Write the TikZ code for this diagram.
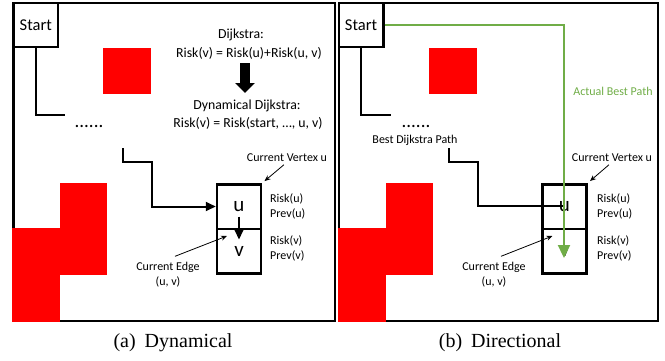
\documentclass[tikz,border=0pt]{standalone}
\usepackage{fontspec}
\setmainfont{Carlito}
\newfontfamily\capfont{Liberation Serif}
\usetikzlibrary{arrows.meta}
\definecolor{pathgreen}{HTML}{70AD47}
\definecolor{obst}{HTML}{FF0000}

\begin{document}
\begin{tikzpicture}[x=1pt,y=-1pt,
  frame/.style={draw, line width=2.5pt},
  obstacle/.style={fill=obst, draw=none},
  startbox/.style={draw, line width=2.5pt, minimum width=44.5pt, minimum height=44pt,
    inner sep=0pt, font=\fontsize{16.5}{16.5}\selectfont},
  route/.style={draw, line width=2pt, line join=miter},
  cell/.style={draw, line width=2.5pt, minimum width=44pt, minimum height=44.5pt,
    inner sep=0pt, font=\fontsize{21}{21}\selectfont},
  lbl/.style={font=\fontsize{12}{15}\selectfont, inner sep=0pt},
  rule/.style={font=\fontsize{13.8}{17}\selectfont, inner sep=0pt},
  dots/.style={font=\fontsize{19}{19}\selectfont, inner sep=0pt},
  pointer/.style={draw, line width=0.8pt, -{Stealth[length=6pt,width=5pt]}},
  caption/.style={font=\capfont\fontsize{20}{20}\selectfont, inner sep=0pt},
  greenroute/.style={draw=pathgreen, line width=2.3pt, -{Triangle[length=13pt,width=12pt]}}
]
\useasboundingbox (0,0) rectangle (665,360);

% ---------------- (a) Dynamical ----------------
\draw[frame] (13.5,3) rectangle (335,321);
\node[startbox] (astart) at (35.75,25) {Start};
\fill[obstacle] (103,48) rectangle (151,94);
\fill[obstacle] (12.3,228) rectangle (60,321.8);
\fill[obstacle] (60,183) rectangle (107,275);

\node[cell] (au) at (239,206.5) {u};
\node[cell] (av) at (239,251) {v};

\coordinate (aend) at (65,115);
\node[dots] (adots) at (89,126) {......};
\coordinate (aresume) at (123,148);
\draw[route] (astart.south) |- (aend);
\draw[route, -{Triangle[length=10pt,width=9pt]}] (aresume) -- (123,162) -- (152,162) |- (au.west);
\draw[route, -{Triangle[length=10pt,width=9pt]}] ([yshift=-10pt]au.center) -- ([yshift=-12pt]av.north);

\node[rule] (adij) at (241,35) {Dijkstra:};
\node[rule] (adijf) at (249,53) {Risk(v) = Risk(u)+Risk(u, v)};
\coordinate (abigA) at (245,63);
\coordinate (abigB) at (245,93);
\draw[line width=10pt, -{Triangle[length=10pt,width=19pt]}] (abigA) -- (abigB);
\node[rule] (adyn) at (247,106) {Dynamical Dijkstra:};
\node[rule] (adynf) at (248,123) {Risk(v) = Risk(start, …, u, v)};

\node[lbl] (acv) at (287,158) {Current Vertex u};
\draw[pointer, shorten <=4pt, shorten >=3pt] (acv.south) -- (au.north east);
\node[lbl, align=left, anchor=west] (aru) at (270,206.5) {Risk(u)\\Prev(u)};
\node[lbl, align=left, anchor=west] (arv) at (270,248.5) {Risk(v)\\Prev(v)};
\node[lbl, align=center] (ace) at (168,275) {Current Edge\\(u, v)};
\draw[pointer] ([shift={(7,-6)}]ace.north) -- ([shift={(-12,8.5)}]av.north);

\node[caption] (acap) at (173,343) {(a)\hspace{0.45em}Dynamical};

% ---------------- (b) Directional ----------------
\draw[frame] (339,3) rectangle (658,321);
\node[startbox] (bstart) at (361,25) {Start};
\fill[obstacle] (429,48) rectangle (477,94);
\fill[obstacle] (337.8,228) rectangle (386,321.8);
\fill[obstacle] (386,183) rectangle (433,275);

\node[cell] (bu) at (564.5,206.5) {u};
\node[cell] (bv) at (564.5,251) {v};

\coordinate (bend) at (391,115);
\node[dots] (bdots) at (416,126) {......};
\node[lbl] (bbest) at (415,140) {Best Dijkstra Path};
\coordinate (bresume) at (449,148);
\coordinate (bhalt) at (565,206);
\draw[route] (bstart.south) |- (bend);
\draw[route] (bresume) -- (449,162) -- (478,162) |- (bhalt);

\coordinate (bgoal) at (564,258);
\draw[greenroute] (bstart.east) -| (bgoal);
\node[lbl, text=pathgreen] (bactual) at (613,91) {Actual Best Path};

\node[lbl] (bcv) at (612,158) {Current Vertex u};
\draw[pointer, shorten <=4pt, shorten >=3pt] (bcv.south) -- (bu.north east);
\node[lbl, align=left, anchor=west] (bru) at (597,206.5) {Risk(u)\\Prev(u)};
\node[lbl, align=left, anchor=west] (brv) at (597,248.5) {Risk(v)\\Prev(v)};
\node[lbl, align=center] (bce) at (494,275) {Current Edge\\(u, v)};
\draw[pointer] ([shift={(7,-6)}]bce.north) -- ([shift={(-12,8.5)}]bv.north);

\node[caption] (bcap) at (500,343) {(b)\hspace{0.45em}Directional};
\end{tikzpicture}
\end{document}
